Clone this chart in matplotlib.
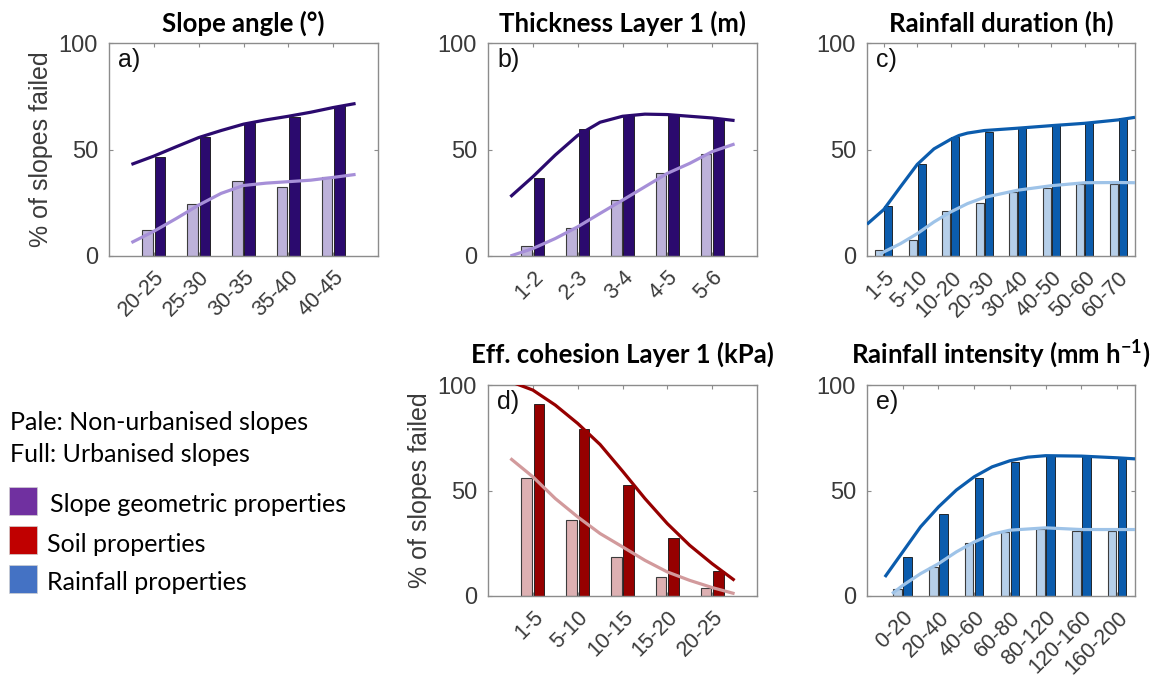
import matplotlib
matplotlib.use("Agg")
import matplotlib.pyplot as plt
from matplotlib.patches import Rectangle

# ---- data (% of slopes failed) ----
slope_cats = ["20-25", "25-30", "30-35", "35-40", "40-45"]
slope_pale = [12.1, 24.3, 35.3, 32.3, 37.2]
slope_full = [46.6, 55.7, 62.3, 65.1, 70.2]

thick_cats = ["1-2", "2-3", "3-4", "4-5", "5-6"]
thick_pale = [4.7, 13.2, 26.2, 39.1, 47.9]
thick_full = [36.4, 59.5, 66.2, 66.2, 64.7]

dur_cats = ["1-5", "5-10", "10-20", "20-30", "30-40", "40-50", "50-60", "60-70"]
dur_pale = [3.0, 7.7, 21.0, 25.0, 30.1, 31.7, 33.8, 34.0]
dur_full = [23.4, 43.2, 56.0, 58.1, 60.6, 62.0, 63.1, 64.7]

coh_cats = ["1-5", "5-10", "10-15", "15-20", "20-25"]
coh_pale = [55.7, 35.9, 18.4, 8.9, 4.0]
coh_full = [91.0, 79.1, 52.5, 27.5, 11.9]

int_cats = ["0-20", "20-40", "40-60", "60-80", "80-120", "120-160", "160-200"]
int_pale = [3.5, 13.8, 25.2, 30.4, 31.6, 30.7, 30.7]
int_full = [18.5, 38.9, 55.9, 63.6, 66.3, 66.3, 65.2]

# trend curves (x in category units)
trend_x5 = [0.5, 1.0, 1.5, 2.0, 2.5, 3.0, 3.5, 4.0, 4.5, 5.0, 5.5]
slope_fit_pale = [6.3, 11.6, 17.6, 23.9, 29.4, 33.1, 34.2, 34.9, 35.6, 36.9, 38.3]
slope_fit_full = [43.0, 46.9, 51.3, 55.6, 58.9, 61.9, 63.9, 65.6, 67.5, 69.7, 71.6]
thick_fit_pale = [0.0, 3.5, 8.2, 13.7, 20.0, 26.2, 32.5, 38.8, 43.5, 49.0, 52.6]
thick_fit_full = [27.8, 37.2, 47.4, 56.6, 62.8, 65.6, 66.6, 66.4, 65.6, 64.8, 63.6]
coh_fit_pale = [65.2, 56.5, 46.2, 37.5, 29.6, 23.3, 16.9, 11.4, 7.4, 4.0, 1.1]
coh_fit_full = [101.6, 97.6, 90.5, 81.8, 71.8, 59.2, 46.2, 34.3, 24.0, 15.3, 7.4]

dur_fit_x_pale = [0.9, 1.0, 1.5, 2.0, 2.5, 3.0, 3.5, 4.0, 5.0, 6.0, 7.0, 8.0, 8.5]
dur_fit_pale = [0.6, 1.9, 5.8, 10.5, 16.0, 20.7, 24.6, 27.5, 30.9, 33.0, 34.4, 34.5, 34.4]
dur_fit_x_full = [0.5, 1.0, 1.5, 2.0, 2.5, 3.0, 3.25, 3.5, 4.0, 5.0, 6.0, 7.0, 8.0, 8.5]
dur_fit_full = [14.9, 21.8, 32.5, 43.0, 50.3, 54.8, 56.6, 57.7, 58.9, 60.0, 61.2, 62.3, 63.9, 65.1]

int_fit_x_pale = [0.7, 1.0, 1.5, 2.0, 2.5, 3.0, 3.5, 4.0, 5.0, 6.0, 7.0, 7.5]
int_fit_pale = [1.1, 5.0, 10.6, 15.3, 20.9, 25.6, 29.3, 31.2, 32.3, 31.5, 31.5, 31.5]
int_fit_x_full = [0.5, 1.0, 1.5, 2.0, 2.5, 3.0, 3.5, 4.0, 4.5, 5.0, 6.0, 7.0, 7.5]
int_fit_full = [9.0, 20.9, 32.8, 42.2, 50.2, 56.5, 61.2, 64.1, 65.8, 66.5, 66.3, 65.5, 65.0]

# colours: (pale bar, pale line, full bar, full line)
PURPLE = ("#bdb2da", "#a68fd8", "#2b0a6e", "#2b0a6e")
RED = ("#ddb0b2", "#d29a9c", "#960000", "#960000")
BLUE = ("#b6cfe9", "#9ec3e8", "#0b5cad", "#0b5cad")

TICK_FONT = "Liberation Sans"
TEXT_FONT = "Lato"
GREY = "#3a3a3a"

W, H = 1163, 682
fig = plt.figure(figsize=(W / 100, H / 100), dpi=100)
plt.rcParams["mathtext.default"] = "regular"


def px_axes(left, top, right, bottom):
    return fig.add_axes([left / W, 1 - bottom / H, (right - left) / W, (bottom - top) / H])


def panel(ax, cats, pale, full, fits, colors, xlim, title, letter, title_pad, ylabel=False):
    pale_bar, pale_line, full_bar, full_line = colors
    x = list(range(1, len(cats) + 1))
    w = 0.24
    ax.bar([i - 0.14 for i in x], pale, width=w, color=pale_bar,
           edgecolor="#3c3c3c", linewidth=0.8, zorder=2)
    ax.bar([i + 0.14 for i in x], full, width=w, color=full_bar,
           edgecolor="#111111", linewidth=0.6, zorder=2)
    (px, py), (fx, fy) = fits
    ax.plot(px, py, color=pale_line, lw=2.3, zorder=3, solid_capstyle="butt")
    ax.plot(fx, fy, color=full_line, lw=2.3, zorder=3, solid_capstyle="butt")

    ax.set_xlim(*xlim)
    ax.set_ylim(0, 100)
    ax.set_yticks([0, 50, 100])
    ax.set_xticks(x)
    ax.set_xticklabels(cats, rotation=45, ha="right", rotation_mode="anchor",
                       fontsize=15.5, family=TICK_FONT, color=GREY)
    ax.set_yticklabels(["0", "50", "100"], fontsize=17, family=TICK_FONT, color=GREY)
    ax.tick_params(direction="in", top=True, right=True, length=3,
                   color="#8c8c8c", width=0.8)
    ax.tick_params(axis="x", pad=8)
    ax.tick_params(axis="y", pad=8)
    for s in ax.spines.values():
        s.set_color("#8c8c8c")
        s.set_linewidth(1.0)
    ax.set_title(title, fontsize=18.5, fontweight="bold", family=TEXT_FONT, pad=title_pad)
    ax.text(0.035, 0.975, letter, transform=ax.transAxes, ha="left", va="top",
            fontsize=18, family=TICK_FONT, color="#111111")
    if ylabel:
        ax.set_ylabel("% of slopes failed", fontsize=18, family=TICK_FONT,
                      color=GREY, labelpad=4)


ax_a = px_axes(109, 43, 378, 256)
panel(ax_a, slope_cats, slope_pale, slope_full,
      ((trend_x5, slope_fit_pale), (trend_x5, slope_fit_full)),
      PURPLE, (0, 6), "Slope angle (°)", "a)", 8, ylabel=True)

ax_b = px_axes(488, 43, 757, 256)
panel(ax_b, thick_cats, thick_pale, thick_full,
      ((trend_x5, thick_fit_pale), (trend_x5, thick_fit_full)),
      PURPLE, (0, 6), "Thickness Layer 1 (m)", "b)", 8)

ax_c = px_axes(867, 43, 1135, 256)
panel(ax_c, dur_cats, dur_pale, dur_full,
      ((dur_fit_x_pale, dur_fit_pale), (dur_fit_x_full, dur_fit_full)),
      BLUE, (0.5, 8.5), "Rainfall duration (h)", "c)", 8)

ax_d = px_axes(488, 385, 757, 596)
panel(ax_d, coh_cats, coh_pale, coh_full,
      ((trend_x5, coh_fit_pale), (trend_x5, coh_fit_full)),
      RED, (0, 6), "Eff. cohesion Layer 1 (kPa)", "d)", 16, ylabel=True)

ax_e = px_axes(867, 385, 1135, 596)
panel(ax_e, int_cats, int_pale, int_full,
      ((int_fit_x_pale, int_fit_pale), (int_fit_x_full, int_fit_full)),
      BLUE, (0, 7.5), "Rainfall intensity (mm h$^{-1}$)", "e)", 16)

# ---- key on the left ----
fig.text(10 / W, 1 - 422 / H, "Pale: Non-urbanised slopes", fontsize=18,
         family=TEXT_FONT, va="center", ha="left")
fig.text(10 / W, 1 - 455 / H, "Full: Urbanised slopes", fontsize=18,
         family=TEXT_FONT, va="center", ha="left")
key_labels = ["Slope geometric properties", "Soil properties", "Rainfall properties"]
key_colors = ["#7030a0", "#c00000", "#4472c4"]
key_y = [501, 540, 579]
key_tx = [50, 47, 47]
for lab, col, yc, tx in zip(key_labels, key_colors, key_y, key_tx):
    fig.patches.append(Rectangle((9 / W, 1 - (yc + 14) / H), 28 / W, 28 / H,
                                 transform=fig.transFigure, facecolor=col,
                                 edgecolor="#d0d0d0", linewidth=0.5))
    fig.text(tx / W, 1 - (yc + 4) / H, lab, fontsize=18, family=TEXT_FONT,
             va="center", ha="left")

fig.savefig("out.png", dpi=100)
